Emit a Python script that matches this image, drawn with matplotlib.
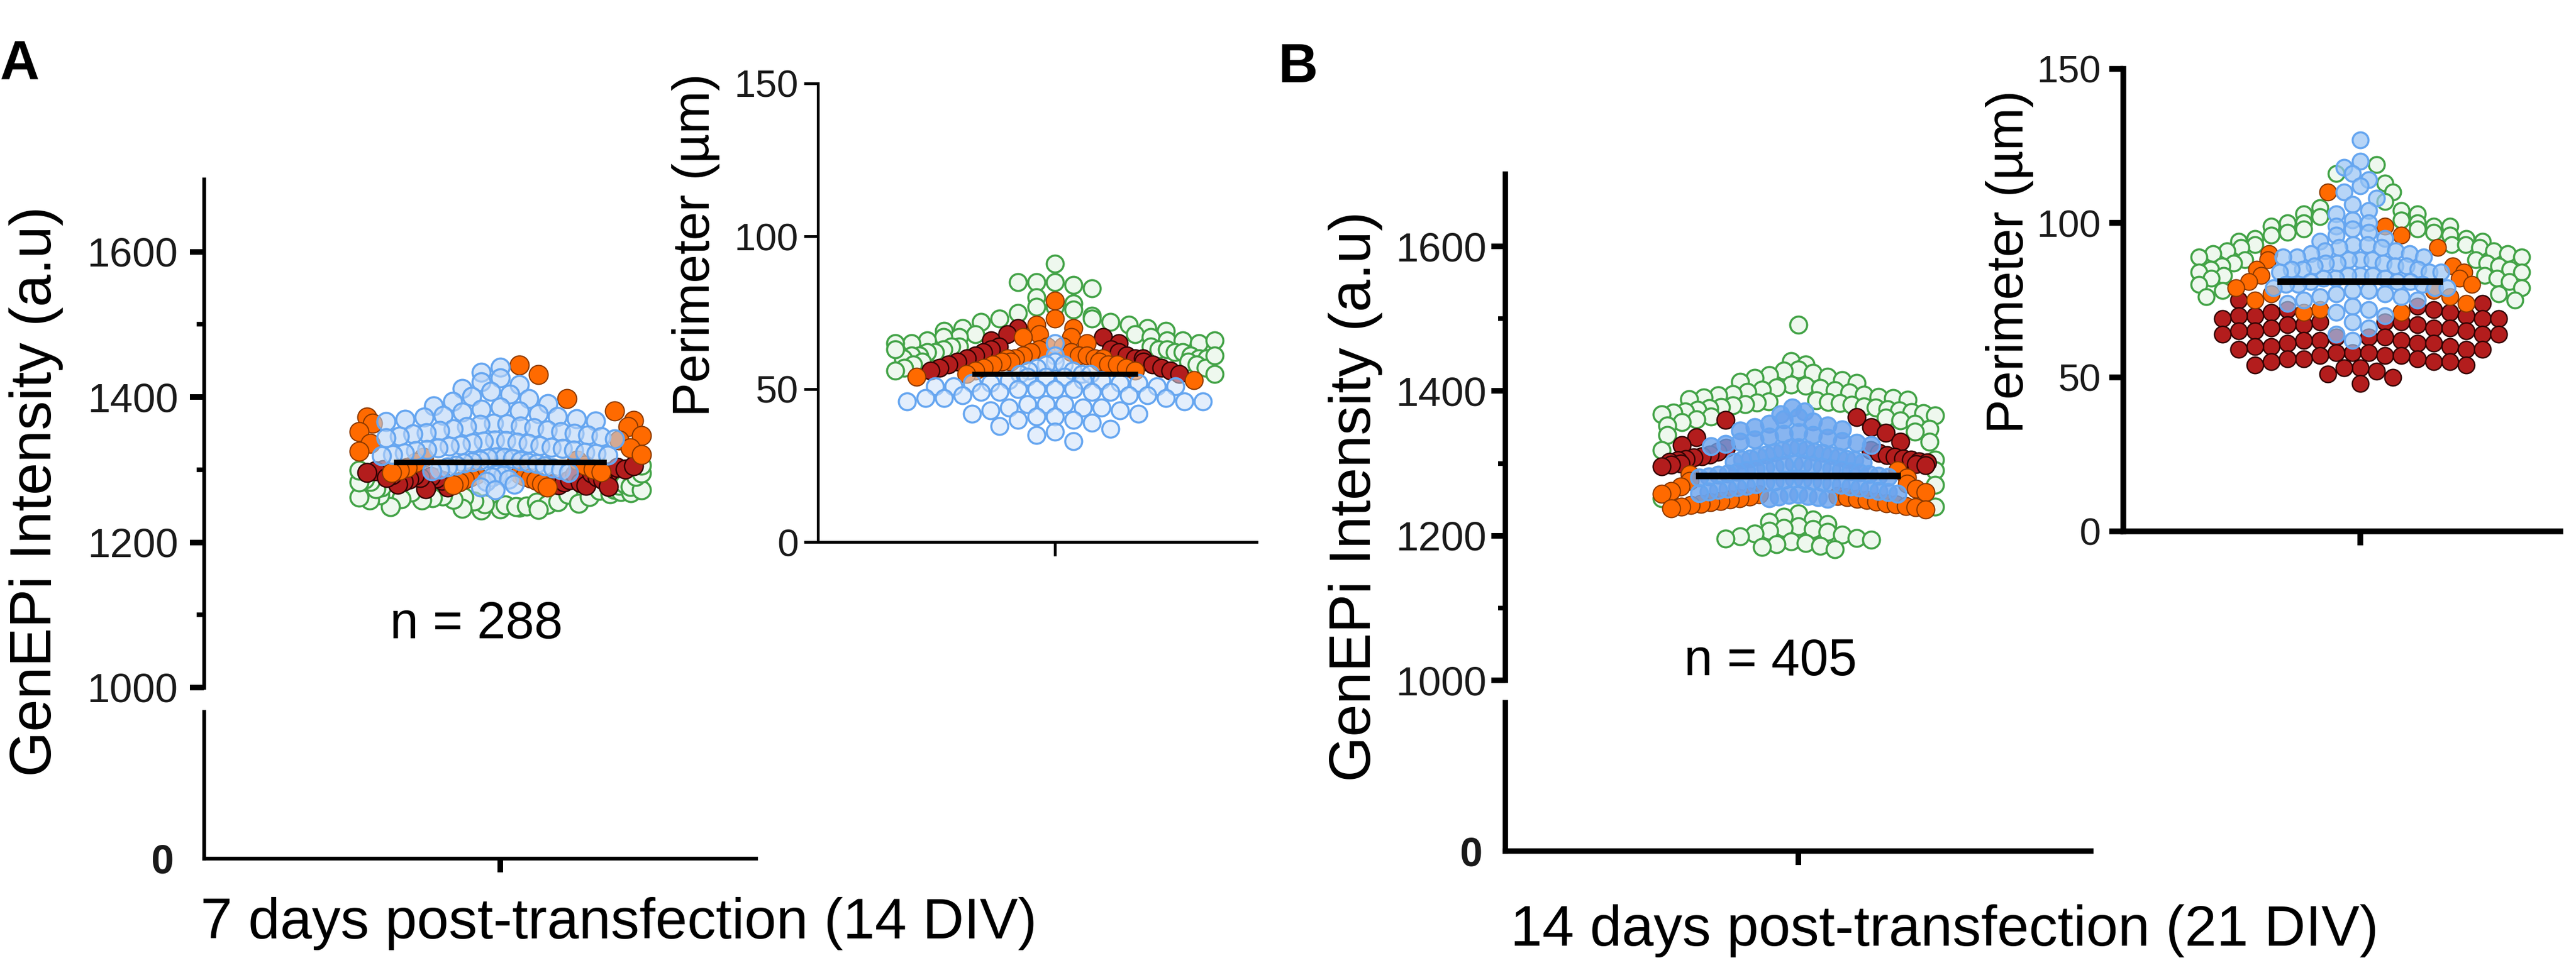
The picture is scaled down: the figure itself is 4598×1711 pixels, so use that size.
import numpy as np
import matplotlib
matplotlib.use("Agg")
import matplotlib.pyplot as plt

plt.rcParams['font.family'] = ['Liberation Sans', 'DejaVu Sans']

# ---- data ----
# panel A, 7 days post-transfection
green_int_a = [1246, 1244, 1251, 1248, 1253, 1249, 1257, 1250, 1262, 1255, 1247, 1259, 1252, 1264, 1256,
               1261, 1245, 1266, 1258, 1254, 1269, 1263, 1260, 1271, 1249, 1267, 1273, 1265, 1276, 1270,
               1258, 1278, 1268, 1274, 1281, 1262, 1284, 1277, 1287, 1272, 1291, 1283, 1295, 1299, 1306]
red_int_a = [1276, 1281, 1285, 1279, 1288, 1283, 1291, 1286, 1274, 1294, 1289, 1297, 1282, 1292, 1278,
             1300, 1287, 1295, 1284, 1303, 1290, 1280, 1298, 1286, 1293, 1277, 1301, 1289, 1296, 1305]
orange_int_a = [1444, 1431, 1398, 1381, 1372, 1368, 1364, 1359, 1352, 1347, 1341, 1336, 1330, 1325, 1321,
                1317, 1313, 1310, 1306, 1303, 1301, 1299, 1297, 1296, 1294, 1293, 1291, 1290, 1288, 1287,
                1285, 1283, 1281, 1279, 1276]
blue_int_a = [1441, 1434, 1426, 1421, 1417, 1412, 1408, 1404, 1401, 1398, 1394, 1391, 1388, 1386, 1383,
              1381, 1379, 1377, 1375, 1373, 1372, 1370, 1369, 1367, 1366, 1364, 1363, 1362, 1360, 1359,
              1358, 1356, 1355, 1354, 1352, 1351, 1350, 1349, 1348, 1346, 1345, 1344, 1342, 1341, 1340,
              1339, 1338, 1337, 1336, 1334, 1333, 1332, 1331, 1330, 1329, 1328, 1327, 1326, 1324, 1323,
              1322, 1321, 1320, 1319, 1318, 1317, 1316, 1315, 1313, 1312, 1311, 1310, 1309, 1308, 1306,
              1305, 1304, 1302, 1301, 1300, 1298, 1296, 1294, 1292, 1290, 1287, 1284, 1280, 1276, 1272]
mean_int_a = 1310

green_per_a = [91, 85, 85, 84, 85, 83, 80, 78, 77, 77, 76, 75, 74, 73, 73, 72, 72, 71, 70, 70, 69, 69, 68, 68,
               67, 67, 67, 66, 66, 66, 65, 65, 65, 64, 64, 64, 63, 63, 63, 62, 62, 62, 62, 61, 61, 61, 60, 60,
               60, 59, 59, 58, 58, 57, 57, 56, 55, 63, 66, 61]
red_per_a = [70, 68, 67, 66, 65, 64, 63, 63, 62, 62, 61, 61, 60, 60, 60, 59, 59, 58, 58, 57, 57, 56, 56, 55]
orange_per_a = [79, 73, 71, 70, 68, 67, 67, 65, 64, 64, 63, 62, 62, 61, 61, 61, 60, 60, 60, 60, 59, 59, 59,
                58, 58, 58, 57, 57, 56, 56, 55, 54, 53]
blue_per_a = [65, 61, 59, 58, 58, 57, 56, 56, 55, 55, 55, 54, 54, 54, 53, 53, 53, 52, 52, 52, 52, 51, 51, 51,
              51, 50, 50, 50, 50, 49, 49, 49, 49, 48, 48, 48, 47, 47, 47, 46, 46, 46, 45, 45, 45, 44, 44, 44,
              43, 43, 42, 42, 41, 41, 40, 40, 39, 38, 37, 36, 35, 33]
mean_per_a = 55

# panel B, 14 days post-transfection
green_int_b = [1492, 1441, 1437, 1430, 1428, 1425, 1422, 1420, 1418, 1415, 1413, 1411, 1409, 1407, 1405,
               1404, 1402, 1401, 1399, 1398, 1396, 1395, 1394, 1392, 1391, 1390, 1389, 1388, 1387, 1386,
               1385, 1384, 1383, 1382, 1381, 1380, 1379, 1378, 1377, 1376, 1375, 1374, 1373, 1372, 1371,
               1370, 1369, 1368, 1366, 1365, 1363, 1361, 1359, 1357, 1355, 1352, 1348, 1344, 1339,
               1330, 1318, 1305, 1290, 1270, 1252, 1240,
               1231, 1226, 1222, 1219, 1216, 1213, 1211, 1209, 1207, 1205, 1203, 1201, 1199, 1197, 1196,
               1194, 1192, 1190, 1188, 1186, 1184, 1181]
red_int_b = [1364, 1360, 1350, 1342, 1336, 1330, 1325, 1321, 1318, 1316, 1314, 1312, 1311, 1310, 1309,
             1308, 1307, 1306, 1305, 1304, 1303, 1302, 1301, 1300, 1299, 1298, 1297, 1296]
orange_int_b = [1290, 1285, 1280, 1276, 1272, 1268, 1265, 1262, 1260, 1258, 1257, 1255, 1254, 1253, 1252,
                1251, 1250, 1249, 1248, 1247, 1246, 1245, 1244, 1243, 1242, 1241, 1240, 1239, 1238, 1236]
blue_int_b = [1377, 1372, 1368, 1364, 1361, 1358, 1355, 1352, 1350, 1347, 1345, 1343, 1341, 1339, 1337,
              1335, 1333, 1331, 1330, 1328, 1327, 1325, 1324, 1322, 1321, 1319, 1318, 1316, 1315, 1314,
              1312, 1311, 1310, 1309, 1307, 1306, 1305, 1304, 1302, 1301, 1300, 1299, 1298, 1297, 1296,
              1295, 1294, 1293, 1292, 1291, 1290, 1289, 1288, 1287, 1286, 1285, 1284, 1283, 1282, 1281,
              1280, 1279, 1278, 1277, 1276, 1275, 1274, 1273, 1272, 1271, 1270, 1269, 1268, 1267, 1266,
              1265, 1264, 1263, 1262, 1261, 1260, 1259, 1258, 1257, 1256, 1255, 1254, 1253, 1252, 1251]
mean_int_b = 1283

green_per_b = [119, 116, 113, 110, 107, 105, 104, 103, 103, 102, 101, 100, 100, 100, 99, 99, 99, 98, 98, 97,
               97, 96, 96, 95, 95, 94, 94, 93, 93, 93, 92, 92, 91, 91, 90, 90, 89, 89, 88, 88, 87, 87, 86, 86,
               85, 85, 84, 84, 83, 83, 82, 82, 81, 80, 79, 78, 77, 76, 75]
red_per_b = [75, 74, 73, 72, 72, 71, 71, 70, 70, 70, 69, 69, 69, 68, 68, 68, 67, 67, 67, 66, 66, 66, 65, 65,
             65, 64, 64, 64, 63, 63, 63, 62, 62, 62, 61, 61, 61, 60, 60, 60, 59, 59, 59, 58, 58, 58, 57, 57,
             57, 56, 56, 56, 55, 55, 55, 54, 54, 53, 53, 52, 51, 50, 48]
orange_per_b = [110, 99, 96, 92, 90, 88, 86, 85, 84, 83, 82, 81, 80, 79, 78, 77, 76, 75, 74, 72, 71, 71]
blue_per_b = [127, 120, 118, 116, 114, 112, 110, 108, 106, 104, 103, 101, 100, 99, 98, 97, 96, 95, 94, 93,
              93, 92, 92, 91, 91, 90, 90, 89, 89, 89, 88, 88, 88, 87, 87, 87, 86, 86, 86, 85, 85, 85, 84,
              84, 84, 83, 83, 83, 82, 82, 82, 81, 81, 81, 80, 80, 80, 79, 79, 79, 78, 78, 77, 77, 76, 76,
              75, 75, 74, 73, 72, 71, 70, 68, 66, 64, 62]
mean_per_b = 81

int_ticks = [1000, 1200, 1400, 1600]
int_minor = [1100, 1300, 1500]
per_ticks = [0, 50, 100, 150]

# ---- figure ----
W, H = 4598, 1711
DPI = 300
fig = plt.figure(figsize=(W / DPI, H / DPI), dpi=DPI)

def box(x0, y0, x1, y1):
    return [x0 / W, 1 - y1 / H, (x1 - x0) / W, (y1 - y0) / H]

def ftext(x, y, s, **kw):
    fig.text(x / W, 1 - y / H, s, **kw)

styles = {
    'green': dict(facecolor='#eef8ee', edgecolor='#43a347', linewidths=0.9),
    'red': dict(facecolor='#b31d1d', edgecolor='#330404', linewidths=0.6),
    'orange': dict(facecolor='#ff6a00', edgecolor='#8a3800', linewidths=0.5),
    'blue': dict(facecolor=(0.80, 0.88, 0.98, 0.55), edgecolor='#66a6f0', linewidths=0.9),
}
CENTRE_OUT = ['blue', 'orange', 'red', 'green']   # who sits nearest the centre of a row
DRAW_ORDER = ['green', 'red', 'orange', 'blue']

def row_layout(groups, ky, h, sx, wmax):
    # GraphPad-like scatter: bin into rows, spread each row around the centre,
    # squeeze the spacing when a row would get wider than wmax
    names, vals = [], []
    for name, v in groups:
        names += [name] * len(v)
        vals += list(v)
    vals = np.asarray(vals, float)
    rank = np.array([CENTRE_OUT.index(n) for n in names])
    rows = np.floor(vals * ky / h).astype(int)
    xs = np.zeros(len(vals))
    for r in np.unique(rows):
        idx = np.where(rows == r)[0]
        idx = idx[np.argsort(rank[idx], kind='stable')]
        n = len(idx)
        step = sx if n < 2 else min(sx, 2 * wmax / (n - 1))
        slots = (np.arange(n) - (n - 1) / 2) * step
        slots = sorted(slots, key=lambda s: (round(abs(s), 6), s))
        xs[idx] = slots
    return np.array(names), vals, xs

def draw_groups(ax, groups, ky, dia, h, sx, wmax, mean, half, lw_mean, blue_face=None):
    names, vals, xs = row_layout(groups, ky, h, sx, wmax)
    d_pt = dia * 72.0 / DPI
    for z, name in enumerate(DRAW_ORDER):
        m = names == name
        st = dict(styles[name])
        if name == 'blue' and blue_face is not None:
            st['facecolor'] = blue_face
        ax.scatter(xs[m], vals[m], s=(d_pt - st['linewidths']) ** 2, zorder=3 + z,
                   clip_on=False, **st)
    ax.plot([-half, half], [mean, mean], color='black', lw=lw_mean, zorder=10,
            solid_capstyle='butt')

def main_axes(x0, x1, tick_x, y_top, y_1000, y_gap, y_0, lw, pad, zero_pad):
    top = fig.add_axes(box(x0, y_top, x1, y_1000))
    bot = fig.add_axes(box(x0, y_gap, x1, y_0))
    for a in (top, bot):
        a.set_xlim(x0 - tick_x, x1 - tick_x)
        a.patch.set_visible(False)
        a.spines[['top', 'right']].set_visible(False)
        a.spines['left'].set_linewidth(lw)
    top.spines['bottom'].set_visible(False)
    bot.spines['bottom'].set_linewidth(lw)
    top.set_ylim(1000, 1700)
    top.set_xticks([])
    top.set_yticks(int_ticks)
    top.set_yticks(int_minor, minor=True)
    top.tick_params(axis='y', which='major', length=6, width=2.4, labelsize=17.5,
                    labelcolor='#1a1a1a', pad=pad)
    top.tick_params(axis='y', which='minor', length=3.2, width=2.0)
    bot.set_ylim(0, 1)
    bot.set_yticks([0])
    bot.set_yticklabels(['0'], fontweight='bold', fontsize=17.5, color='#1a1a1a')
    bot.tick_params(axis='y', length=0, pad=zero_pad)
    bot.set_xticks([0])
    bot.set_xticklabels([])
    bot.tick_params(axis='x', length=6, width=2.4)
    ky = (y_1000 - y_top) / 700.0
    return top, ky

def per_axes(x0, x1, tick_x, y_150, y_0, lw, pad):
    ax = fig.add_axes(box(x0, y_150, x1, y_0))
    ax.set_xlim(x0 - tick_x, x1 - tick_x)
    ax.set_ylim(0, 150)
    ax.patch.set_visible(False)
    ax.spines[['top', 'right']].set_visible(False)
    ax.spines[['left', 'bottom']].set_linewidth(lw)
    ax.set_yticks(per_ticks)
    ax.set_xticks([0])
    ax.set_xticklabels([])
    ax.tick_params(axis='y', length=6, width=lw, labelsize=16.5, labelcolor='#1a1a1a', pad=pad)
    ax.tick_params(axis='x', length=6, width=lw)
    ky = (y_0 - y_150) / 150.0
    return ax, ky

# panel A
ax, ky = main_axes(364, 1349, 893, 320, 1228, 1271, 1533, 1.6, 5, 13)
draw_groups(ax, [('green', green_int_a), ('red', red_int_a), ('orange', orange_int_a),
                 ('blue', blue_int_a)], ky, 36, 30, 34, 252, mean_int_a, 190, 2.4,
            blue_face=(0.72, 0.83, 0.97, 0.6))
ax, ky = per_axes(1460, 2243, 1883, 149, 968, 1.2, 2.4)
draw_groups(ax, [('green', green_per_a), ('red', red_per_a), ('orange', orange_per_a),
                 ('blue', blue_per_a)], ky, 34, 25, 33, 285, mean_per_a, 148, 2.2)

# panel B
ax, ky = main_axes(2687, 3732, 3210, 311, 1215, 1255, 1520, 2.3, 2, 10)
draw_groups(ax, [('green', green_int_b), ('red', red_int_b), ('orange', orange_int_b),
                 ('blue', blue_int_b)], ky, 34, 28, 26, 244, mean_int_b, 183, 2.8,
            blue_face=(0.42, 0.64, 0.93, 0.8))
ax, ky = per_axes(3790, 4570, 4213, 123, 949, 2.5, 3.6)
draw_groups(ax, [('green', green_per_b), ('red', red_per_b), ('orange', orange_per_b),
                 ('blue', blue_per_b)], ky, 32, 27, 29, 288, mean_per_b, 148, 2.8,
            blue_face=(0.60, 0.77, 0.96, 0.7))

# texts
ftext(0, 142, 'A', fontsize=23.5, fontweight='bold', ha='left', va='baseline')
ftext(2281, 147, 'B', fontsize=23.5, fontweight='bold', ha='left', va='baseline')
ftext(65, 878, 'GenEPi Intensity (a.u)', fontsize=25, rotation=90, ha='center', va='center')
ftext(2420, 887, 'GenEPi Intensity (a.u)', fontsize=25, rotation=90, ha='center', va='center')
ftext(1242, 438, 'Perimeter (µm)', fontsize=22, rotation=90, ha='center', va='center')
ftext(3587, 468, 'Perimeter (µm)', fontsize=22, rotation=90, ha='center', va='center')
ftext(850, 1140, 'n = 288', fontsize=22, ha='center', va='baseline')
ftext(3160, 1206, 'n = 405', fontsize=22, ha='center', va='baseline')
ftext(1104, 1676, '7 days post-transfection (14 DIV)', fontsize=24.5, ha='center', va='baseline')
ftext(3471, 1689, '14 days post-transfection (21 DIV)', fontsize=24.5, ha='center', va='baseline')

fig.savefig('out.png', dpi=DPI)
